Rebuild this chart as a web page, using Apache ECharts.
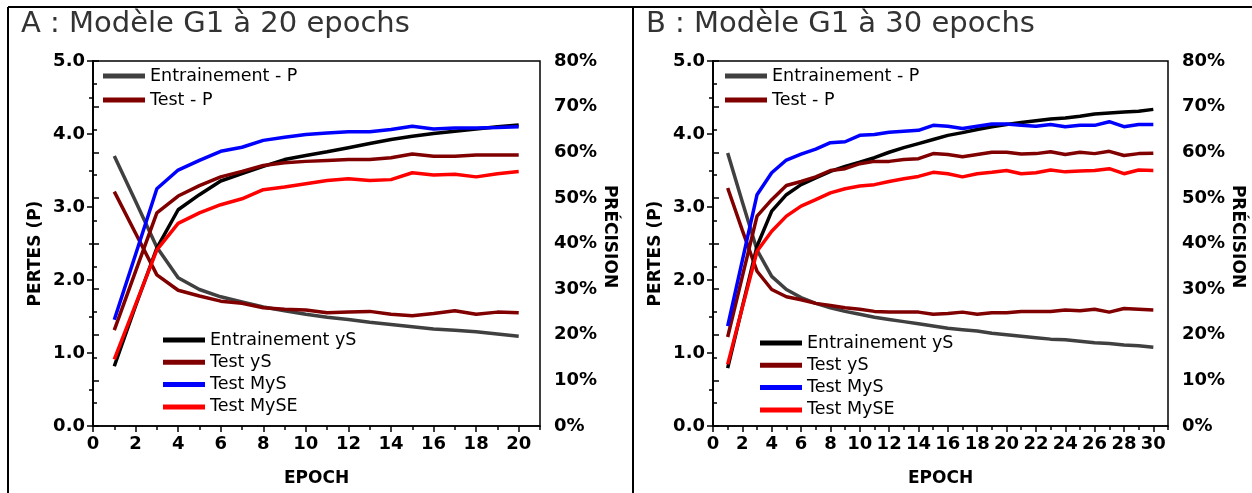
<!DOCTYPE html>
<html><head><meta charset="utf-8">
<script src="https://cdn.jsdelivr.net/npm/echarts@6/dist/echarts.min.js"></script>
<style>html,body{margin:0;padding:0;background:#fff}#c{width:1252px;height:493px}</style>
</head><body><div id="c"></div>
<script>
// ---------- data ----------
const titleA = 'A : Modèle G1 à 20 epochs';
const titleB = 'B : Modèle G1 à 30 epochs';
const seriesNames = ['Entrainement - P', 'Test - P', 'Entrainement yS', 'Test yS', 'Test MyS', 'Test MySE'];

const epochsA = [1,2,3,4,5,6,7,8,9,10,11,12,13,14,15,16,17,18,19,20];
const trainLossA = [3.70,3.08,2.45,2.03,1.87,1.77,1.70,1.63,1.58,1.53,1.49,1.46,1.42,1.39,1.36,1.33,1.31,1.29,1.26,1.23];
const testLossA  = [3.21,2.64,2.07,1.86,1.78,1.71,1.68,1.62,1.60,1.59,1.55,1.56,1.57,1.53,1.51,1.54,1.58,1.53,1.56,1.55];
const trainAccA  = [13.1,26.3,39.0,47.4,50.7,53.7,55.3,56.9,58.4,59.3,60.1,61.0,61.9,62.8,63.5,64.1,64.6,65.1,65.6,66.0];
const testAccA   = [21.0,33.9,46.7,50.4,52.7,54.6,55.8,57.1,57.7,58.0,58.2,58.4,58.4,58.8,59.6,59.1,59.1,59.4,59.4,59.4];
const mysA       = [23.3,37.6,52.0,56.1,58.2,60.2,61.1,62.6,63.3,63.9,64.2,64.5,64.5,65.0,65.7,65.1,65.3,65.3,65.4,65.6];
const myseA      = [14.6,26.6,38.6,44.4,46.7,48.5,49.8,51.8,52.4,53.1,53.8,54.2,53.8,54.0,55.5,55.0,55.2,54.6,55.3,55.8];

const epochsB = [1,2,3,4,5,6,7,8,9,10,11,12,13,14,15,16,17,18,19,20,21,22,23,24,25,26,27,28,29,30];
const trainLossB = [3.74,3.07,2.41,2.05,1.87,1.76,1.68,1.62,1.57,1.53,1.49,1.46,1.43,1.40,1.37,1.34,1.32,1.30,1.27,1.25,1.23,1.21,1.19,1.18,1.16,1.14,1.13,1.11,1.10,1.08];
const testLossB  = [3.26,2.68,2.12,1.87,1.77,1.73,1.68,1.65,1.62,1.60,1.57,1.56,1.56,1.56,1.53,1.54,1.56,1.53,1.55,1.55,1.57,1.57,1.57,1.59,1.58,1.60,1.56,1.61,1.60,1.59];
const trainAccB  = [12.7,26.1,39.4,47.1,50.7,52.9,54.4,55.8,56.9,57.8,58.8,60.0,61.0,61.9,62.8,63.7,64.3,65.0,65.6,66.1,66.5,66.9,67.3,67.5,67.9,68.4,68.6,68.8,69.0,69.4];
const testAccB   = [19.5,32.8,46.0,49.6,52.7,53.6,54.6,56.0,56.4,57.5,58.0,58.0,58.4,58.6,59.7,59.5,59.0,59.5,60.0,60.0,59.6,59.7,60.1,59.5,60.0,59.7,60.2,59.3,59.7,59.8];
const mysB       = [21.9,36.3,50.7,55.5,58.3,59.6,60.7,62.1,62.3,63.7,63.9,64.4,64.6,64.8,65.9,65.7,65.2,65.7,66.2,66.2,65.9,65.7,66.1,65.6,65.9,65.9,66.7,65.6,66.1,66.1];
const myseB      = [13.5,26.0,38.3,42.7,46.0,48.2,49.6,51.1,52.0,52.6,52.9,53.6,54.2,54.7,55.6,55.3,54.6,55.3,55.6,56.0,55.3,55.5,56.1,55.7,55.9,56.0,56.4,55.3,56.1,56.0];

// ---------- styling ----------
const FONT = 'DejaVu Sans';
const colors = ['#404040', '#800000', '#000000', '#800000', '#0000ff', '#ff0000'];
const chart = echarts.init(document.getElementById('c'));

const tickLbl = {color:'#000', fontFamily:FONT, fontWeight:'bold', fontSize:18};
const nameStyle = {color:'#000', fontFamily:FONT, fontWeight:'bold', fontSize:17};
const axLine = {lineStyle:{color:'#000', width:1.5}};

function xAxes(gridIndex, max) {
  return [
    { gridIndex, type:'value', min:0, max, interval:2, position:'bottom',
      axisLine:axLine, axisTick:{length:6, lineStyle:{color:'#000', width:1.5}},
      axisLabel:Object.assign({margin:9, showMaxLabel:false, formatter:v => (v % 2 === 0 ? String(v) : '')}, tickLbl),
      splitLine:{show:false},
      name:'EPOCH', nameLocation:'middle', nameGap:44, nameTextStyle:nameStyle },
    { gridIndex, type:'value', min:0, max, interval:1, position:'bottom',
      axisLine:{show:false}, axisTick:{length:4, lineStyle:{color:'#000', width:1.5}},
      axisLabel:{show:false}, splitLine:{show:false} }
  ];
}
function yAxes(gridIndex) {
  return [
    { gridIndex, type:'value', min:0, max:5, interval:1, position:'left',
      axisLine:Object.assign({show:true}, axLine), axisTick:{show:true, length:6, lineStyle:{color:'#000', width:1.5}},
      minorTick:{show:true, splitNumber:2, length:4, lineStyle:{color:'#000', width:1.5}},
      axisLabel:Object.assign({margin:8, formatter:v => v.toFixed(1)}, tickLbl),
      splitLine:{show:false}, minorSplitLine:{show:false},
      name:'PERTES (P)', nameLocation:'middle', nameRotate:90, nameGap:49,
      nameTextStyle:Object.assign({padding:[0,20,0,0]}, nameStyle) },
    { gridIndex, type:'value', min:0, max:80, interval:10, position:'right',
      axisLine:Object.assign({show:true}, axLine), axisTick:{show:true, length:6, lineStyle:{color:'#000', width:1.5}},
      minorTick:{show:true, splitNumber:2, length:4, lineStyle:{color:'#000', width:1.5}},
      axisLabel:Object.assign({margin:14, formatter:v => v + '%'}, tickLbl),
      splitLine:{show:false}, minorSplitLine:{show:false},
      name:'PRÉCISION', nameLocation:'middle', nameRotate:-90, nameGap:58,
      nameTextStyle:Object.assign({padding:[0,14,0,0]}, nameStyle) }
  ];
}
function zip(xs, ys) { return xs.map((x, i) => [x, ys[i]]); }
function panelSeries(p, epochs, arrs) {
  const xi = p * 2, yl = p * 2, yr = p * 2 + 1;
  const axisFor = [yl, yl, yr, yr, yr, yr];
  return arrs.map((arr, i) => ({
    name: seriesNames[i], type:'line', xAxisIndex:xi, yAxisIndex:axisFor[i],
    data: zip(epochs, arr), showSymbol:false, symbol:'none',
    color: colors[i], lineStyle:{width:3.5, color:colors[i]}, animation:false, z: 2 + i
  }));
}
const legendBase = {orient:'vertical', icon:'rect', itemWidth:42, itemHeight:5, selectedMode:false,
  textStyle:{fontFamily:FONT, fontSize:17.5, color:'#000', lineHeight:17}, padding:0};

chart.setOption({
  animation:false,
  backgroundColor:'#fff',
  title:[
    {text:titleA, left:21, top:10, padding:0, textStyle:{fontFamily:FONT, fontSize:29, fontWeight:'normal', color:'#333'}},
    {text:titleB, left:646, top:10, padding:0, textStyle:{fontFamily:FONT, fontSize:29, fontWeight:'normal', color:'#333'}}
  ],
  grid:[
    {left:93, top:61, width:447, height:365, show:true, borderColor:'#000', borderWidth:1.5, backgroundColor:'transparent'},
    {left:713, top:61, width:455, height:365, show:true, borderColor:'#000', borderWidth:1.5, backgroundColor:'transparent'}
  ],
  xAxis:[...xAxes(0, 21), ...xAxes(1, 31)],
  yAxis:[...yAxes(0), ...yAxes(1)],
  legend:[
    Object.assign({left:103, top:67, itemGap:6, data:['Entrainement - P','Test - P']}, legendBase),
    Object.assign({left:163, top:331, itemGap:4.3, data:['Entrainement yS','Test yS','Test MyS','Test MySE']}, legendBase),
    Object.assign({left:725, top:67, itemGap:6, data:['Entrainement - P','Test - P']}, legendBase),
    Object.assign({left:760, top:334, itemGap:4.3, data:['Entrainement yS','Test yS','Test MyS','Test MySE']}, legendBase)
  ],
  graphic:[
    {type:'line', shape:{x1:8, y1:7, x2:1252, y2:7}, style:{stroke:'#000', lineWidth:2}},
    {type:'line', shape:{x1:8, y1:7, x2:8, y2:493}, style:{stroke:'#000', lineWidth:2}},
    {type:'line', shape:{x1:633, y1:7, x2:633, y2:493}, style:{stroke:'#000', lineWidth:2}}
  ],
  series:[
    ...panelSeries(0, epochsA, [trainLossA, testLossA, trainAccA, testAccA, mysA, myseA]),
    ...panelSeries(1, epochsB, [trainLossB, testLossB, trainAccB, testAccB, mysB, myseB])
  ]
});
</script></body></html>
